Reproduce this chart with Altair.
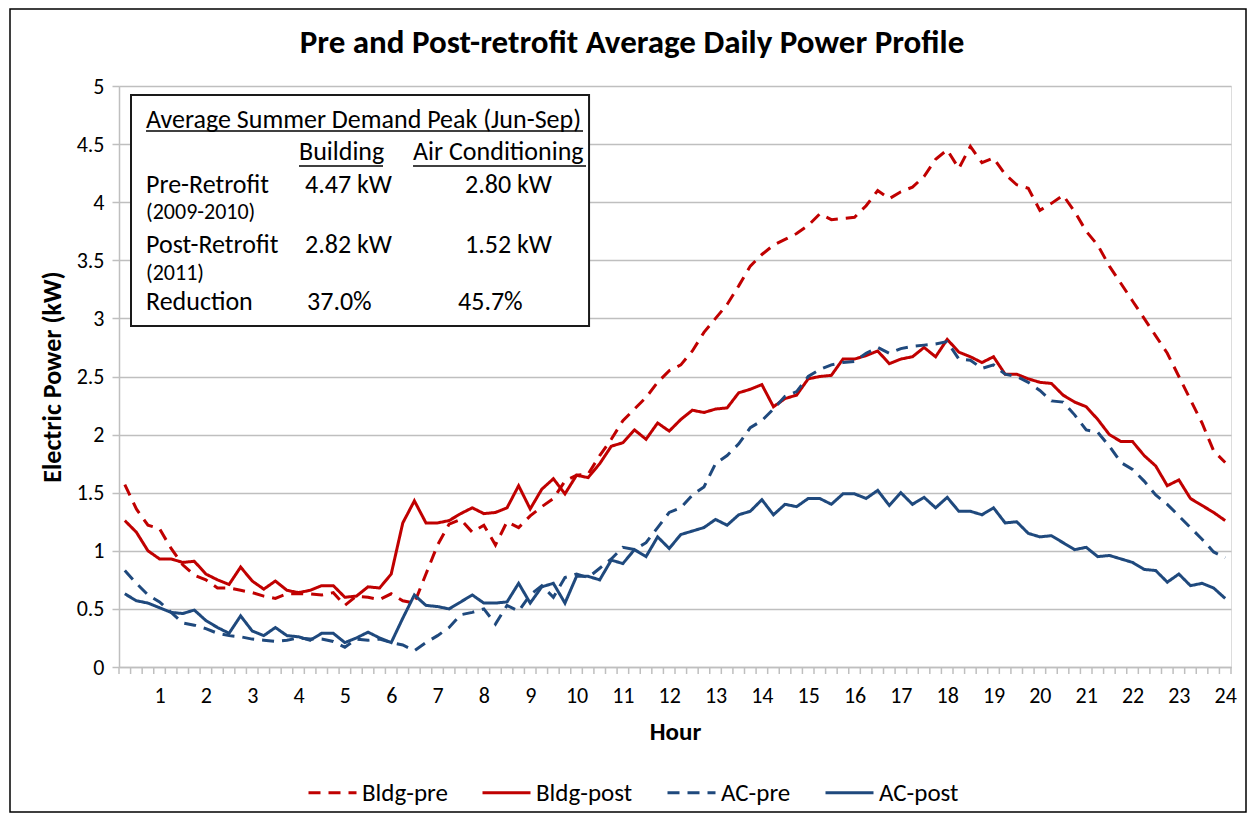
import altair as alt
import pandas as pd

FONT = "Carlito, Lato, sans-serif"

# x categories: 15-minute steps through the day (hours)
hours = [i / 4 for i in range(1, 97)]

bldg_pre = [1.57, 1.36, 1.22, 1.19, 1.02, 0.88, 0.79, 0.75, 0.68, 0.68,
            0.66, 0.64, 0.61, 0.59, 0.63, 0.63, 0.63, 0.62, 0.64, 0.53,
            0.61, 0.60, 0.58, 0.63, 0.57, 0.55, 0.80, 1.05, 1.23, 1.27,
            1.16, 1.22, 1.05, 1.25, 1.20, 1.30, 1.38, 1.45, 1.60, 1.65,
            1.66, 1.82, 1.96, 2.12, 2.22, 2.32, 2.45, 2.55, 2.60, 2.72,
            2.88, 3.00, 3.12, 3.28, 3.45, 3.55, 3.63, 3.68, 3.73, 3.80,
            3.90, 3.85, 3.86, 3.87, 3.97, 4.10, 4.03, 4.09, 4.13, 4.22,
            4.37, 4.45, 4.29, 4.48, 4.34, 4.38, 4.24, 4.15, 4.12, 3.93,
            3.99, 4.06, 3.92, 3.75, 3.63, 3.45, 3.30, 3.15, 3.00, 2.85,
            2.70, 2.50, 2.30, 2.10, 1.86, 1.76]

bldg_post = [1.26, 1.16, 1.00, 0.93, 0.93, 0.90, 0.91, 0.80, 0.75, 0.71,
             0.86, 0.74, 0.67, 0.74, 0.66, 0.64, 0.66, 0.70, 0.70, 0.60,
             0.61, 0.69, 0.68, 0.80, 1.24, 1.43, 1.24, 1.24, 1.26, 1.32,
             1.37, 1.32, 1.33, 1.37, 1.56, 1.36, 1.53, 1.62, 1.49, 1.65,
             1.63, 1.75, 1.90, 1.93, 2.04, 1.96, 2.10, 2.03, 2.13, 2.21,
             2.19, 2.22, 2.23, 2.36, 2.39, 2.43, 2.24, 2.31, 2.34, 2.48,
             2.50, 2.51, 2.65, 2.65, 2.68, 2.72, 2.61, 2.65, 2.67, 2.75,
             2.67, 2.82, 2.71, 2.67, 2.62, 2.67, 2.52, 2.52, 2.48, 2.45,
             2.44, 2.34, 2.28, 2.24, 2.13, 2.00, 1.94, 1.94, 1.82, 1.73,
             1.56, 1.61, 1.45, 1.39, 1.33, 1.26]

ac_pre = [0.83, 0.72, 0.62, 0.56, 0.47, 0.38, 0.36, 0.33, 0.29, 0.27,
          0.26, 0.24, 0.23, 0.22, 0.23, 0.25, 0.24, 0.24, 0.22, 0.17,
          0.24, 0.23, 0.24, 0.21, 0.19, 0.14, 0.21, 0.27, 0.34, 0.45,
          0.47, 0.50, 0.37, 0.53, 0.48, 0.62, 0.70, 0.60, 0.77, 0.80,
          0.77, 0.85, 0.93, 1.03, 1.01, 1.07, 1.20, 1.33, 1.37, 1.48,
          1.55, 1.75, 1.82, 1.92, 2.06, 2.12, 2.22, 2.33, 2.37, 2.50,
          2.56, 2.60, 2.62, 2.63, 2.70, 2.75, 2.70, 2.74, 2.76, 2.77,
          2.78, 2.80, 2.65, 2.64, 2.57, 2.60, 2.52, 2.50, 2.45, 2.38,
          2.29, 2.28, 2.17, 2.04, 2.02, 1.90, 1.76, 1.70, 1.60, 1.48,
          1.40, 1.30, 1.20, 1.10, 0.99, 0.94]

ac_post = [0.63, 0.57, 0.55, 0.51, 0.47, 0.46, 0.49, 0.40, 0.34, 0.29,
           0.44, 0.31, 0.27, 0.34, 0.27, 0.26, 0.23, 0.29, 0.29, 0.21,
           0.25, 0.30, 0.25, 0.21, 0.42, 0.62, 0.53, 0.52, 0.50, 0.56,
           0.62, 0.55, 0.55, 0.56, 0.72, 0.55, 0.69, 0.72, 0.55, 0.78,
           0.78, 0.75, 0.92, 0.89, 1.01, 0.95, 1.12, 1.02, 1.14, 1.17,
           1.20, 1.27, 1.22, 1.31, 1.34, 1.44, 1.31, 1.40, 1.38, 1.45,
           1.45, 1.40, 1.49, 1.49, 1.45, 1.52, 1.39, 1.50, 1.40, 1.46,
           1.37, 1.46, 1.34, 1.34, 1.31, 1.37, 1.24, 1.25, 1.15, 1.12,
           1.13, 1.07, 1.01, 1.03, 0.95, 0.96, 0.93, 0.90, 0.84, 0.83,
           0.73, 0.80, 0.70, 0.72, 0.68, 0.59]

series_names = ["Bldg-pre", "Bldg-post", "AC-pre", "AC-post"]
series_colors = ["#C00000", "#C00000", "#1F497D", "#1F497D"]
series_dashes = [[12, 8], [1, 0], [12, 8], [1, 0]]

x_labels = list(range(1, 25))
y_ticks = [0, 0.5, 1, 1.5, 2, 2.5, 3, 3.5, 4, 4.5, 5]

chart_title = "Pre and Post-retrofit Average Daily Power Profile"

# annotation table (text, hour, kW, font size)
ann_text = ["Average Summer Demand Peak (Jun-Sep)", "Building", "Air Conditioning",
            "Pre-Retrofit", "4.47 kW", "2.80 kW", "(2009-2010)",
            "Post-Retrofit", "2.82 kW", "1.52 kW", "(2011)",
            "Reduction", "37.0%", "45.7%"]
ann_hour = [0.708, 4.010, 6.471,
            0.708, 4.140, 7.593, 0.708,
            0.708, 4.140, 7.593, 0.708,
            0.708, 4.183, 7.442]
ann_kw = [4.639, 4.363, 4.363,
          4.080, 4.080, 4.080, 3.855,
          3.565, 3.565, 3.565, 3.330,
          3.072, 3.072, 3.072]
ann_size = [26, 26, 26, 26, 26, 26, 22, 26, 26, 26, 22, 26, 26, 26]

# underlines of header cells
ul_start = [0.708, 4.010, 6.471]
ul_end = [10.14, 5.823, 10.205]
ul_kw = [4.613, 4.311, 4.311]

# table box (hours, kW)
box_h = [0.384]
box_h2 = [10.27]
box_k = [4.923]
box_k2 = [2.935]

# minor category ticks on the x axis (category boundaries)
minor_ticks = [0.125 + 0.25 * k for k in range(97)]

rows = []
for name, vals in zip(series_names, [bldg_pre, bldg_post, ac_pre, ac_post]):
    for h, v in zip(hours, vals):
        rows.append({"hour": h, "kW": v, "series": name})
df = pd.DataFrame(rows)

W, H = 1112, 581
xscale = alt.Scale(domain=[0.125, 24.125], nice=False, zero=False)
yscale = alt.Scale(domain=[0, 5], nice=False)

legend = alt.Legend(orient="none", legendX=188, legendY=681,
                    direction="horizontal", columns=4, title=None,
                    symbolType="stroke", symbolSize=2304,
                    symbolStrokeWidth=3, labelFont=FONT,
                    labelFontSize=25, labelColor="#000000",
                    columnPadding=28, labelOffset=4)

lines = alt.Chart(df).mark_line(strokeWidth=3).encode(
    x=alt.X("hour:Q", scale=xscale,
            axis=alt.Axis(values=x_labels, format="d", ticks=False, tickSize=0,
                          grid=False, domainColor="#BFBFBF", domainWidth=1.5,
                          labelFont=FONT, labelFontSize=22, labelColor="#000000",
                          labelPadding=18, labelFlush=False,
                          title="Hour", titleFont=FONT, titleFontSize=25,
                          titleFontWeight="bold", titleColor="#000000",
                          titleY=64, titleBaseline="middle")),
    y=alt.Y("kW:Q", scale=yscale,
            axis=alt.Axis(values=y_ticks, format="~g", tickSize=7, tickColor="#BFBFBF",
                          tickWidth=1.5, gridColor="#BFBFBF", gridWidth=1.5,
                          domainColor="#BFBFBF", domainWidth=1.5,
                          labelFont=FONT, labelFontSize=22, labelColor="#000000",
                          labelPadding=8,
                          title="Electric Power (kW)", titleFont=FONT, titleFontSize=26,
                          titleFontWeight="bold", titleColor="#000000",
                          titleX=-67, titleY=H / 2, titleAlign="center",
                          titleBaseline="middle", titleAngle=270)),
    color=alt.Color("series:N", scale=alt.Scale(domain=series_names, range=series_colors),
                    legend=legend),
    strokeDash=alt.StrokeDash("series:N",
                              scale=alt.Scale(domain=series_names, range=series_dashes),
                              legend=legend),
    order=alt.Order("hour:Q"),
)

tick_df = pd.DataFrame({"b": minor_ticks})
minor = alt.Chart(tick_df).mark_rule(color="#BFBFBF", strokeWidth=1.5).encode(
    x=alt.X("b:Q", scale=xscale),
    y=alt.value(H),
    y2=alt.value(H + 7),
)

box_df = pd.DataFrame({"h": box_h, "h2": box_h2, "k": box_k, "k2": box_k2})
box = alt.Chart(box_df).mark_rect(fill="#FFFFFF", stroke="#1A1A1A", strokeWidth=2).encode(
    x=alt.X("h:Q", scale=xscale), x2="h2:Q",
    y=alt.Y("k:Q", scale=yscale), y2="k2:Q",
)

ann_df = pd.DataFrame({"t": ann_text, "h": ann_hour, "k": ann_kw, "s": ann_size})
ann = alt.Chart(ann_df).mark_text(align="left", baseline="alphabetic", font=FONT,
                                  color="#000000").encode(
    x=alt.X("h:Q", scale=xscale),
    y=alt.Y("k:Q", scale=yscale),
    text="t:N",
    size=alt.Size("s:Q", scale=None),
)

ul_df = pd.DataFrame({"a": ul_start, "b": ul_end, "k": ul_kw})
ul = alt.Chart(ul_df).mark_rule(color="#000000", strokeWidth=1.5).encode(
    x=alt.X("a:Q", scale=xscale), x2="b:Q",
    y=alt.Y("k:Q", scale=yscale),
)

title_mark = alt.Chart(pd.DataFrame({"t": [chart_title]})).mark_text(
    font=FONT, fontSize=33, fontWeight="bold", color="#000000",
    align="center", baseline="alphabetic").encode(
    text="t:N", x=alt.value(513), y=alt.value(-33),
)

frame = alt.Chart(pd.DataFrame({"f": [0]})).mark_rect(
    fillOpacity=0, stroke="#000000", strokeWidth=1.5).encode(
    x=alt.value(-109), x2=alt.value(1127), y=alt.value(-77), y2=alt.value(726),
)

chart = alt.layer(minor, box, ann, ul, lines, title_mark, frame).properties(
    width=W, height=H,
    padding={"left": 111, "top": 78, "right": 16, "bottom": 147},
    autosize=alt.AutoSizeParams(type="none"),
).configure_view(stroke=None).configure(background="#FFFFFF")

chart.save("out.html", embed_options={"renderer": "svg", "actions": False})
